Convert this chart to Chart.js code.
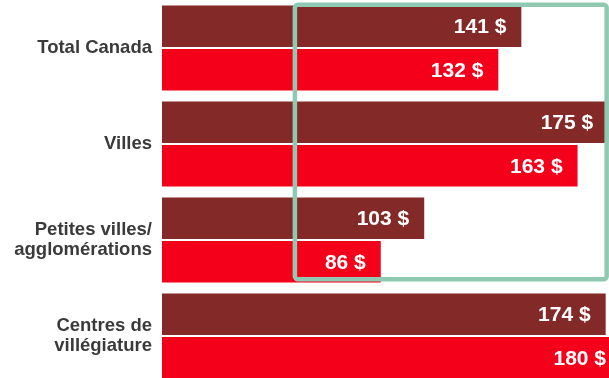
<!DOCTYPE html>
<html lang="fr">
<head>
<meta charset="utf-8">
<title>Tarif moyen par type de destination</title>
<script src="https://cdn.jsdelivr.net/npm/chart.js@4/dist/chart.umd.min.js"></script>
<style>
  html, body { margin: 0; padding: 0; background: #ffffff; overflow: hidden; }
  #wrap { position: relative; width: 622px; height: 384px; }
</style>
</head>
<body>
<div id="wrap"><canvas id="chart"></canvas></div>
<script>
// Categories (multi-line labels as arrays)
const categories = [
  'Total Canada',
  'Villes',
  ['Petites villes/', 'agglomérations'],
  ['Centres de', 'villégiature']
];
// Two periods compared, average price in $
const seriesA = [141, 175, 103, 174];
const seriesB = [132, 163, 86, 180];
const seriesNames = ['Période 1', 'Période 2'];
const valueSuffix = ' $';
// Highlighted area: value range and category range
const highlightX = [52, 174];
const highlightY = [-0.45, 2.41];

const colorA = '#832A28';
const colorB = '#F5001A';

// Writes each bar's value inside the bar, near its end
const valueLabels = {
  id: 'valueLabels',
  afterDatasetsDraw(chart) {
    const ctx = chart.ctx;
    ctx.save();
    ctx.font = 'bold 21px "Liberation Sans", Arial, sans-serif';
    ctx.fillStyle = '#ffffff';
    ctx.textAlign = 'right';
    ctx.textBaseline = 'middle';
    chart.data.datasets.forEach((ds, i) => {
      chart.getDatasetMeta(i).data.forEach((bar, j) => {
        ctx.fillText(ds.data[j] + valueSuffix, bar.x - 16, bar.y + 1);
      });
    });
    ctx.restore();
  }
};

// Rounded outline around the highlighted part of the chart
const highlightBox = {
  id: 'highlightBox',
  afterDraw(chart) {
    const { ctx, scales: { x, y } } = chart;
    const x0 = x.getPixelForValue(highlightX[0]);
    const x1 = x.getPixelForValue(highlightX[1]);
    const y0 = y.getPixelForValue(highlightY[0]);
    const y1 = y.getPixelForValue(highlightY[1]);
    ctx.save();
    ctx.strokeStyle = '#90C9B2';
    ctx.lineWidth = 4.5;
    ctx.beginPath();
    ctx.roundRect(x0, y0, x1 - x0, y1 - y0, 3);
    ctx.stroke();
    ctx.restore();
  }
};

new Chart(document.getElementById('chart'), {
  type: 'bar',
  data: {
    labels: categories,
    datasets: [
      { label: seriesNames[0], data: seriesA, backgroundColor: colorA,
        borderColor: 'rgba(255,255,255,0.3)', borderWidth: 1 },
      { label: seriesNames[1], data: seriesB, backgroundColor: colorB,
        borderColor: 'rgba(255,255,255,0.3)', borderWidth: 1 }
    ]
  },
  options: {
    indexAxis: 'y',
    responsive: true,
    maintainAspectRatio: false,
    animation: false,
    layout: { padding: 0 },
    datasets: { bar: { categoryPercentage: 0.906, barPercentage: 1 } },
    plugins: {
      legend: { display: false },
      tooltip: { enabled: false }
    },
    scales: {
      x: { display: false, min: 0, max: 180 },
      y: {
        grid: { display: false },
        border: { display: false },
        afterFit(scale) {
          scale.width = 162;
          scale.paddingTop = 0;
          scale.paddingBottom = 0;
        },
        ticks: {
          padding: 2,
          color: '#3A3A3A',
          font: { family: '"Liberation Sans", Arial, sans-serif', size: 18.5, weight: 'bold', lineHeight: 1.1 }
        }
      }
    }
  },
  plugins: [valueLabels, highlightBox]
});
</script>
</body>
</html>
